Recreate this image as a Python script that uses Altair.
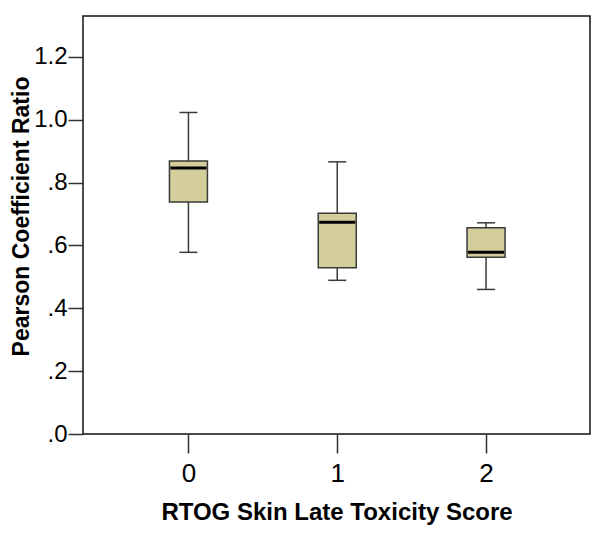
import altair as alt
import pandas as pd

categories = [0, 1, 2]
lower_whisker = [0.578, 0.489, 0.460]
q1 = [0.738, 0.529, 0.562]
median = [0.846, 0.674, 0.578]
q3 = [0.869, 0.702, 0.656]
upper_whisker = [1.023, 0.866, 0.672]

y_ticks = [0.0, 0.2, 0.4, 0.6, 0.8, 1.0, 1.2]
x_ticks = [0, 1, 2]

df = pd.DataFrame({
    "score": categories,
    "lo": lower_whisker,
    "q1": q1,
    "med": median,
    "q3": q3,
    "hi": upper_whisker,
})

FONT = "Liberation Sans"
BOX_FILL = "#d4cf9a"
EDGE = "#3a3a3a"

xscale = alt.Scale(domain=[-0.675, 2.665], nice=False, zero=False)
yscale = alt.Scale(domain=[0, 1.33], nice=False, zero=True)

x_axis = alt.Axis(
    values=x_ticks, format="d", title="RTOG Skin Late Toxicity Score", grid=False, domain=False,
    tickSize=19, tickColor="#333", tickWidth=1.5, labelPadding=7,
    labelFont=FONT, labelFontSize=26, labelColor="black",
    titleFont=FONT, titleFontSize=24, titleFontWeight="bold", titleColor="black",
    titlePadding=14,
)
y_axis = alt.Axis(
    values=y_ticks, title="Pearson Coefficient Ratio", grid=False, domain=False,
    tickSize=15, tickColor="#333", tickWidth=1.5, labelPadding=1,
    labelExpr="datum.value < 1 ? replace(format(datum.value, '.1f'), '0.', '.') : format(datum.value, '.1f')",
    labelFont=FONT, labelFontSize=24, labelColor="black",
    titleFont=FONT, titleFontSize=23, titleFontWeight="bold", titleColor="black",
    titleX=-55, titleY=200, titleBaseline="alphabetic",
)

base = alt.Chart(df)

whisker = base.mark_rule(color=EDGE, strokeWidth=1.5).encode(
    x=alt.X("score:Q", scale=xscale, axis=x_axis),
    y=alt.Y("lo:Q", scale=yscale, axis=y_axis),
    y2="hi:Q",
)
caps_hi = base.mark_tick(orient="horizontal", size=18, thickness=1.5, color=EDGE, opacity=1).encode(
    x=alt.X("score:Q", scale=xscale), y=alt.Y("hi:Q", scale=yscale)
)
caps_lo = base.mark_tick(orient="horizontal", size=18, thickness=1.5, color=EDGE, opacity=1).encode(
    x=alt.X("score:Q", scale=xscale), y=alt.Y("lo:Q", scale=yscale)
)
box = base.mark_bar(size=38, fill=BOX_FILL, stroke=EDGE, strokeWidth=1.5, opacity=1).encode(
    x=alt.X("score:Q", scale=xscale), y=alt.Y("q1:Q", scale=yscale), y2="q3:Q"
)
med = base.mark_tick(orient="horizontal", size=36, thickness=3, color="black", opacity=1).encode(
    x=alt.X("score:Q", scale=xscale), y=alt.Y("med:Q", scale=yscale)
)

chart = alt.layer(whisker, caps_hi, caps_lo, box, med).properties(
    width=507, height=418,
    autosize=alt.AutoSizeParams(type="none"),
    padding={"left": 75, "top": 8, "right": 4, "bottom": 100},
    background="white",
).configure_view(stroke="#111", strokeWidth=1.5)

chart.save("out.html", embed_options={"renderer": "svg", "actions": False})
